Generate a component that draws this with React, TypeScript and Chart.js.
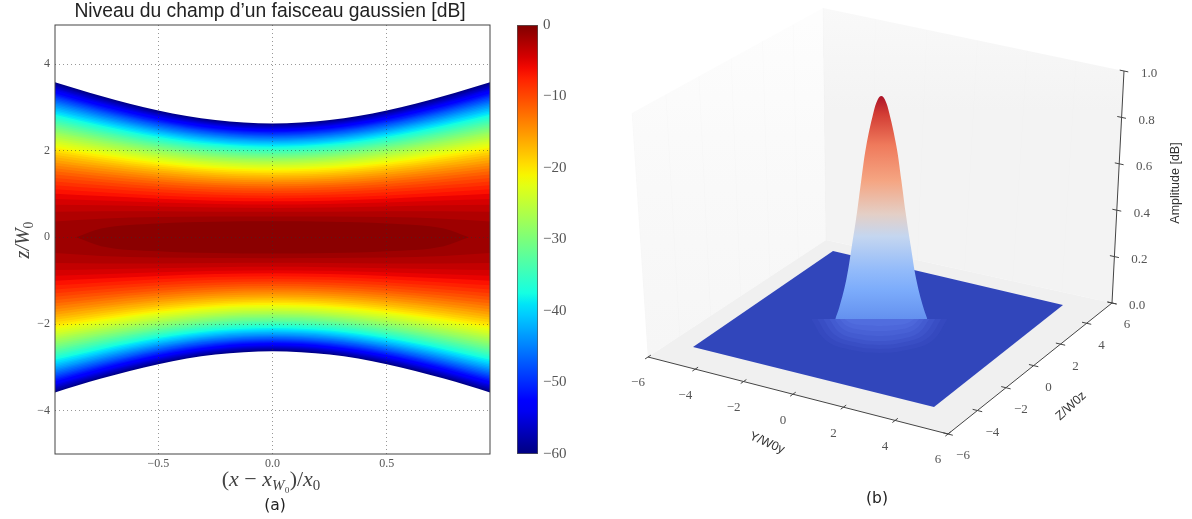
import React, { useEffect, useRef } from "react";
import { Chart, registerables } from "chart.js";

Chart.register(...registerables);

/* ---------- left panel: field level contours, read as half-widths z/W0 ---------- */
const titleText = "Niveau du champ d’un faisceau gaussien [dB]";
const contourX = [0, 0.25, 0.5, 0.75, 0.955];
const levelsDb = [2, 3, 4, 5, 6, 7, 8, 9, 10, 11, 12, 13, 14, 15, 16, 17, 18, 19, 20, 21, 22, 23, 24, 25, 26, 27, 28, 29, 30, 31, 32, 33, 34, 35, 36, 37, 38, 39, 40, 41, 42, 43, 44, 45, 46, 47, 48, 49, 50, 51, 52, 53, 54, 55, 56, 57, 58, 59, 60];
const zAtX000 = [0.48, 0.588, 0.679, 0.759, 0.831, 0.898, 0.96, 1.018, 1.073, 1.125, 1.175, 1.223, 1.27, 1.314, 1.357, 1.399, 1.44, 1.479, 1.517, 1.555, 1.592, 1.627, 1.662, 1.697, 1.73, 1.763, 1.795, 1.827, 1.858, 1.889, 1.919, 1.949, 1.978, 2.007, 2.036, 2.064, 2.092, 2.119, 2.146, 2.173, 2.199, 2.225, 2.251, 2.276, 2.301, 2.326, 2.351, 2.375, 2.399, 2.423, 2.447, 2.47, 2.493, 2.516, 2.539, 2.562, 2.584, 2.606, 2.628];
const zAtX025 = [0.478, 0.592, 0.688, 0.772, 0.847, 0.917, 0.981, 1.041, 1.099, 1.153, 1.205, 1.255, 1.302, 1.349, 1.393, 1.436, 1.478, 1.519, 1.559, 1.598, 1.636, 1.672, 1.709, 1.744, 1.779, 1.813, 1.846, 1.879, 1.911, 1.943, 1.974, 2.005, 2.035, 2.065, 2.095, 2.124, 2.152, 2.18, 2.208, 2.236, 2.263, 2.29, 2.316, 2.343, 2.369, 2.394, 2.42, 2.445, 2.47, 2.494, 2.519, 2.543, 2.567, 2.591, 2.614, 2.637, 2.661, 2.683, 2.706];
const zAtX050 = [0.467, 0.602, 0.711, 0.806, 0.891, 0.968, 1.04, 1.107, 1.17, 1.23, 1.287, 1.342, 1.395, 1.445, 1.494, 1.542, 1.588, 1.632, 1.676, 1.718, 1.76, 1.8, 1.84, 1.878, 1.916, 1.953, 1.99, 2.026, 2.061, 2.096, 2.13, 2.163, 2.196, 2.229, 2.261, 2.292, 2.324, 2.354, 2.385, 2.415, 2.444, 2.474, 2.502, 2.531, 2.559, 2.587, 2.615, 2.642, 2.669, 2.696, 2.723, 2.749, 2.775, 2.801, 2.827, 2.852, 2.877, 2.902, 2.927];
const zAtX075 = [0.431, 0.604, 0.738, 0.852, 0.951, 1.042, 1.125, 1.202, 1.275, 1.343, 1.409, 1.471, 1.531, 1.589, 1.644, 1.698, 1.75, 1.801, 1.85, 1.898, 1.945, 1.991, 2.035, 2.079, 2.122, 2.164, 2.205, 2.246, 2.285, 2.324, 2.363, 2.4, 2.438, 2.474, 2.51, 2.546, 2.581, 2.616, 2.65, 2.684, 2.717, 2.75, 2.782, 2.814, 2.846, 2.878, 2.909, 2.939, 2.97, 3.0, 3.03, 3.059, 3.089, 3.118, 3.146, 3.175, 3.203, 3.231, 3.259];
const zAtX095 = [0.363, 0.593, 0.755, 0.888, 1.004, 1.108, 1.203, 1.29, 1.373, 1.45, 1.524, 1.594, 1.661, 1.726, 1.788, 1.849, 1.907, 1.964, 2.019, 2.072, 2.124, 2.175, 2.225, 2.274, 2.321, 2.368, 2.414, 2.459, 2.503, 2.546, 2.589, 2.631, 2.672, 2.713, 2.753, 2.792, 2.831, 2.87, 2.908, 2.945, 2.982, 3.019, 3.055, 3.09, 3.126, 3.16, 3.195, 3.229, 3.263, 3.296, 3.329, 3.362, 3.394, 3.426, 3.458, 3.49, 3.521, 3.552, 3.583];
const coreLevelDb = 1.2;
const coreX = [0, 0.25, 0.5, 0.75, 0.86];
const coreZ = [0.372, 0.361, 0.321, 0.204, 0];
const colorbarTicks = [0, -10, -20, -30, -40, -50, -60];

/* jet colormap anchors */
const jetR = [[0, 0], [0.35, 0], [0.66, 1], [0.89, 1], [1, 0.5]];
const jetG = [[0, 0], [0.125, 0], [0.375, 1], [0.64, 1], [0.91, 0], [1, 0]];
const jetB = [[0, 0.5], [0.11, 1], [0.34, 1], [0.65, 0], [1, 0]];

/* ---------- right panel: 3D axes and surface ---------- */
const axisYTicks = [-6, -4, -2, 0, 2, 4, 6];
const axisZTicks = [-6, -4, -2, 0, 2, 4, 6];
const ampTicks = [0, 0.2, 0.4, 0.6, 0.8, 1];
const boxLimit = 6;
const surfaceLimit = 5;
const peakAmp = [1, 0.985, 0.926, 0.782, 0.634, 0.49, 0.342, 0.199, 0.081, 0.029];
const peakRadius = [0, 0.13, 0.29, 0.55, 0.73, 0.89, 1.08, 1.28, 1.53, 1.68];
/* glow below the cut base of the peak */
const glowHalfWidth = [68, 62, 56, 50, 45, 40, 35];
const glowDepth = [34, 30, 26, 22, 17, 12, 7];
const glowColors = ["#3549bf", "#394ec4", "#3e54ca", "#435bd0", "#4861d5", "#4d67da", "#516dde"];
const glowShapeX = [-1, -0.8, -0.5, 0, 0.5, 0.8, 1];
const glowShapeY = [0, 0.6, 0.87, 1, 0.87, 0.6, 0];

/* camera calibration (projection, pixel frame of the 3D box) */
const floorQuad = [[648, 357], [948, 434], [1112, 303], [826, 240]];
const topQuad = [[632, 113], [966, 175], [1124, 71], [823, 8]];
const surfaceQuad = [[693, 347], [934, 407], [1063, 305], [833, 251]];
const peakCenter = [881.3, 325.6];
const peakPxPerAmp = 229.6;
const peakPxPerRadius = 27.4;
const peakCutY = 319;

function homography(q: number[][]) {
  const [[x0, y0], [x1, y1], [x2, y2], [x3, y3]] = q;
  const dx1 = x1 - x2, dx2 = x3 - x2, sx = x0 - x1 + x2 - x3;
  const dy1 = y1 - y2, dy2 = y3 - y2, sy = y0 - y1 + y2 - y3;
  const den = dx1 * dy2 - dx2 * dy1;
  const g = (sx * dy2 - dx2 * sy) / den;
  const h = (dx1 * sy - sx * dy1) / den;
  const a = x1 - x0 + g * x1, b = x3 - x0 + h * x3;
  const d = y1 - y0 + g * y1, e = y3 - y0 + h * y3;
  return (u: number, v: number) => {
    const w = g * u + h * v + 1;
    return [(a * u + b * v + x0) / w, (d * u + e * v + y0) / w];
  };
}
const floorMap = homography(floorQuad);
const topMap = homography(topQuad);
const surfMap = homography(surfaceQuad);

function boxPoint(Y: number, Z: number, A: number) {
  const u = (Y + boxLimit) / (2 * boxLimit), v = (Z + boxLimit) / (2 * boxLimit);
  const f = floorMap(u, v), t = topMap(u, v);
  return { x: f[0] + (t[0] - f[0]) * A, y: f[1] + (t[1] - f[1]) * A };
}
function surfPoint(Y: number, Z: number) {
  const p = surfMap((Y + surfaceLimit) / (2 * surfaceLimit), (Z + surfaceLimit) / (2 * surfaceLimit));
  return { x: p[0], y: p[1] };
}

function ramp(anchors: number[][], t: number) {
  for (let i = 1; i < anchors.length; i++) {
    if (t <= anchors[i][0]) {
      const [a, va] = anchors[i - 1], [b, vb] = anchors[i];
      return va + ((vb - va) * (t - a)) / (b - a);
    }
  }
  return anchors[anchors.length - 1][1];
}
function jet(t: number) {
  const c = (v: number) => Math.round(255 * v);
  return `rgb(${c(ramp(jetR, t))},${c(ramp(jetG, t))},${c(ramp(jetB, t))})`;
}
const minusSign = (s: string | number) => String(s).replace("-", "−");

const hiddenLine = { borderWidth: 0, borderColor: "transparent", pointRadius: 0, pointHitRadius: 0 };

/* two x-monotonic chains of a convex polygon, painted between each other */
function polygonPair(pts: { x: number; y: number }[], color: string | CanvasGradient) {
  let lo = 0, hi = 0;
  pts.forEach((p, i) => {
    if (p.x < pts[lo].x) lo = i;
    if (p.x > pts[hi].x) hi = i;
  });
  const n = pts.length;
  const a = [pts[lo]], b = [pts[lo]];
  for (let i = lo; i !== hi; i = (i + 1) % n) a.push(pts[(i + 1) % n]);
  for (let i = lo; i !== hi; i = (i - 1 + n) % n) b.push(pts[(i - 1 + n) % n]);
  return [
    { ...hiddenLine, data: b, fill: false },
    { ...hiddenLine, data: a, fill: "+1", backgroundColor: color },
  ];
}

type Seg = { t: string; it?: boolean; sub?: boolean };
function drawMath(ctx: CanvasRenderingContext2D, segs: Seg[], cx: number, cy: number, size: number, rot = 0) {
  const font = (s: Seg) => `${s.it ? "italic " : ""}${s.sub ? size * 0.68 : size}px "Liberation Serif"`;
  let total = 0;
  segs.forEach((s) => {
    ctx.font = font(s);
    total += ctx.measureText(s.t).width;
  });
  ctx.save();
  ctx.translate(cx, cy);
  ctx.rotate(rot);
  ctx.textBaseline = "alphabetic";
  ctx.textAlign = "left";
  let x = -total / 2;
  segs.forEach((s) => {
    ctx.font = font(s);
    ctx.fillText(s.t, x, size * 0.3 + (s.sub ? size * 0.22 : 0));
    x += ctx.measureText(s.t).width;
  });
  ctx.restore();
}
function drawText(ctx: CanvasRenderingContext2D, t: string, x: number, y: number, font: string, color: string, rot = 0) {
  ctx.save();
  ctx.translate(x, y);
  ctx.rotate(rot);
  ctx.font = font;
  ctx.fillStyle = color;
  ctx.textAlign = "center";
  ctx.textBaseline = "middle";
  ctx.fillText(t, 0, 0);
  ctx.restore();
}

export default function App() {
  const heatRef = useRef<HTMLCanvasElement>(null);
  const barRef = useRef<HTMLCanvasElement>(null);
  const surfRef = useRef<HTMLCanvasElement>(null);

  useEffect(() => {
    /* ---------------- heat map ---------------- */
    const mirrored = (xs: number[], zs: number[], sign: number) => {
      const right = xs.map((x, i) => ({ x, y: sign * zs[i] }));
      const left = xs.slice(1).reverse().map((x, i, arr) => ({ x: -x, y: sign * zs[arr.length - i] }));
      return [...left, ...right];
    };
    const bandLine = { ...hiddenLine, cubicInterpolationMode: "monotone" as const };
    const heatSets: any[] = [
      { ...bandLine, data: mirrored(coreX, coreZ, 1), fill: "+1", backgroundColor: jet(1 - coreLevelDb / 2 / 60) },
      { ...bandLine, data: mirrored(coreX, coreZ, -1), fill: false },
    ];
    levelsDb.forEach((db, i) => {
      const prev = i === 0 ? coreLevelDb : levelsDb[i - 1];
      const zs = [zAtX000[i], zAtX025[i], zAtX050[i], zAtX075[i], zAtX095[i]];
      heatSets.push(
        { ...bandLine, data: mirrored(contourX, zs, 1), fill: "+1", backgroundColor: jet(1 - (db + prev) / 2 / 60) },
        { ...bandLine, data: mirrored(contourX, zs, -1), fill: false }
      );
    });
    const heatDecor = {
      id: "heatDecor",
      afterDatasetsDraw(chart: any) {
        const { ctx, chartArea: a } = chart;
        ctx.save();
        ctx.strokeStyle = "#444";
        ctx.lineWidth = 1;
        ctx.strokeRect(a.left, a.top, a.right - a.left, a.bottom - a.top);
        ctx.fillStyle = "#444";
        drawMath(ctx, [
          { t: "(" }, { t: "x", it: true }, { t: " − " }, { t: "x", it: true }, { t: "W", it: true, sub: true }, { t: "₀", sub: true },
          { t: ")/" }, { t: "x", it: true }, { t: "0", sub: true },
        ], 271, 479, 22);
        drawMath(ctx, [{ t: "z/W", it: true }, { t: "0", sub: true }], 23, 240, 20, -Math.PI / 2);
        ctx.restore();
        drawText(ctx, "(a)", 275, 506, '15.5px "DejaVu Sans"', "#222");
      },
    };
    const heat = new Chart(heatRef.current!, {
      type: "line",
      data: { datasets: heatSets },
      plugins: [heatDecor],
      options: {
        animation: false,
        responsive: false,
        layout: { padding: 0 },
        plugins: {
          legend: { display: false },
          tooltip: { enabled: false },
          title: {
            display: true,
            text: titleText,
            color: "#222",
            font: { family: "Liberation Sans", size: 19.3, weight: "normal", lineHeight: 1.2 },
            padding: { top: 0, bottom: 1.84 },
          },
        },
        scales: {
          x: {
            type: "linear",
            min: -0.952,
            max: 0.952,
            afterFit: (s: any) => { s.height = 65; },
            grid: { z: 1, color: "rgba(50,50,50,0.5)", drawTicks: false },
            border: { display: false, dash: [1, 3] },
            afterBuildTicks: (s: any) => { s.ticks = [{ value: -0.5 }, { value: 0 }, { value: 0.5 }]; },
            ticks: {
              padding: 3,
              color: "#555",
              font: { family: "Liberation Serif", size: 12 },
              callback: (v: any) => minusSign(Number(v).toFixed(1)),
            },
          },
          y: {
            type: "linear",
            min: -5,
            max: 4.9,
            afterFit: (s: any) => { s.width = 55; },
            grid: { z: 1, color: "rgba(50,50,50,0.5)", drawTicks: false },
            border: { display: false, dash: [1, 3] },
            afterBuildTicks: (s: any) => { s.ticks = [-4, -2, 0, 2, 4].map((value) => ({ value })); },
            ticks: {
              padding: 5,
              color: "#555",
              font: { family: "Liberation Serif", size: 12 },
              callback: (v: any) => minusSign(v),
            },
          },
          spacer: {
            type: "linear",
            position: "right",
            afterFit: (s: any) => { s.width = 50; },
            grid: { display: false, drawTicks: false },
            border: { display: false },
            ticks: { display: false },
          },
        },
      } as any,
    });

    /* ---------------- colour bar ---------------- */
    const barCtx = barRef.current!.getContext("2d")!;
    const barGrad = barCtx.createLinearGradient(0, 25, 0, 454);
    for (let i = 0; i <= 40; i++) barGrad.addColorStop(i / 40, jet(1 - i / 40));
    const bar = new Chart(barRef.current!, {
      type: "bar",
      data: {
        labels: ["dB"],
        datasets: [{
          data: [[colorbarTicks[colorbarTicks.length - 1], colorbarTicks[0]]],
          backgroundColor: barGrad,
          borderColor: "#555",
          borderWidth: 1,
          borderSkipped: false,
          barPercentage: 1,
          categoryPercentage: 1,
        }],
      },
      options: {
        animation: false,
        responsive: false,
        layout: { padding: { left: 17, right: 0, top: 25, bottom: 65 } },
        plugins: { legend: { display: false }, tooltip: { enabled: false } },
        scales: {
          x: { display: false },
          y: {
            position: "right",
            min: -60,
            max: 0,
            afterFit: (s: any) => { s.width = 42; },
            grid: { display: false, drawTicks: false },
            border: { display: false },
            afterBuildTicks: (s: any) => { s.ticks = colorbarTicks.map((value) => ({ value })); },
            ticks: {
              padding: 5,
              color: "#555",
              font: { family: "Liberation Serif", size: 15 },
              callback: (v: any) => minusSign(v),
            },
          },
        },
      } as any,
    });

    /* ---------------- 3D surface ---------------- */
    const surfCtx = surfRef.current!.getContext("2d")!;
    const painter: any[] = [];
    const addLine = (data: { x: number; y: number }[], color: string, width = 1) =>
      painter.push({ data, borderColor: color, borderWidth: width, pointRadius: 0, fill: false });

    const L = boxLimit;
    // walls and floor
    const leftWall = surfCtx.createLinearGradient(0, 20, 0, 350);
    leftWall.addColorStop(0, "#fdfdfd");
    leftWall.addColorStop(0.35, "#fafafa");
    leftWall.addColorStop(1, "#f6f6f6");
    const rightWall = surfCtx.createLinearGradient(0, 8, 0, 110);
    rightWall.addColorStop(0, "#f9f9f9");
    rightWall.addColorStop(1, "#f3f3f3");
    painter.push(...polygonPair([boxPoint(-L, -L, 1), boxPoint(-L, L, 1), boxPoint(-L, L, 0), boxPoint(-L, -L, 0)], leftWall));
    painter.push(...polygonPair([boxPoint(-L, L, 1), boxPoint(L, L, 1), boxPoint(L, L, 0), boxPoint(-L, L, 0)], rightWall));
    painter.push(...polygonPair([boxPoint(-L, -L, 0), boxPoint(L, -L, 0), boxPoint(L, L, 0), boxPoint(-L, L, 0)], "#f0f0f0"));
    // faint wall grid
    axisZTicks.forEach((z) => addLine([boxPoint(-L, z, 0), boxPoint(-L, z, 1)].sort((a, b) => a.x - b.x), "rgba(0,0,0,0.012)"));
    axisYTicks.forEach((y) => addLine([boxPoint(y, L, 0), boxPoint(y, L, 1)].sort((a, b) => a.x - b.x), "rgba(0,0,0,0.008)"));
    // blue surface
    const S = surfaceLimit;
    painter.push(...polygonPair([surfPoint(-S, -S), surfPoint(S, -S), surfPoint(S, S), surfPoint(-S, S)], "#3146bb"));
    // glow on the surface, cut by the base of the peak
    glowHalfWidth.forEach((w, i) => {
      painter.push({
        ...hiddenLine,
        tension: 0.4,
        data: glowShapeX.map((sx, j) => ({ x: peakCenter[0] + sx * w - 2, y: peakCutY + glowShapeY[j] * glowDepth[i] })),
        fill: { value: peakCutY },
        backgroundColor: glowColors[i],
      });
    });
    // peak silhouette
    const peakGrad = surfCtx.createLinearGradient(0, 96, 0, peakCutY);
    const peakStops: [number, string][] = [
      [0, "#ac1428"], [0.08, "#d23c34"], [0.22, "#ef7a5c"], [0.38, "#f5a582"], [0.53, "#e4cfc6"],
      [0.63, "#c4d6f0"], [0.78, "#93bbfa"], [0.87, "#7cacfb"], [1, "#6491ef"],
    ];
    peakStops.forEach(([o, c]) => peakGrad.addColorStop(o, c));
    const peakPx = (sign: number, i: number) => ({
      x: peakCenter[0] + sign * peakRadius[i] * peakPxPerRadius,
      y: peakCenter[1] - peakAmp[i] * peakPxPerAmp,
    });
    const peakData = [
      ...peakAmp.map((_, i) => peakPx(-1, peakAmp.length - 1 - i)),
      ...peakAmp.slice(1).map((_, i) => peakPx(1, i + 1)),
    ];
    painter.push({
      ...hiddenLine,
      data: peakData,
      tension: 0.4,
      fill: { value: peakCutY },
      backgroundColor: peakGrad,
    });
    // axes
    addLine([boxPoint(-L, -L, 0), boxPoint(L, -L, 0)], "#444");
    addLine([boxPoint(L, -L, 0), boxPoint(L, L, 0)], "#444");
    addLine([boxPoint(L, L, 0), boxPoint(L, L, 1)], "#444");
    const tickSpan = 0.18;
    axisYTicks.forEach((y) => addLine([boxPoint(y, -L - tickSpan, 0), boxPoint(y, -L + tickSpan, 0)].sort((a, b) => a.x - b.x), "#444"));
    axisZTicks.forEach((z) => addLine([boxPoint(L - tickSpan, z, 0), boxPoint(L + tickSpan, z, 0)].sort((a, b) => a.x - b.x), "#444"));
    ampTicks.forEach((a) => addLine([boxPoint(L - tickSpan, L, a), boxPoint(L + tickSpan, L, a)].sort((p, q) => p.x - q.x), "#444"));

    const surfDecor = {
      id: "surfDecor",
      afterDatasetsDraw(chart: any) {
        const { ctx } = chart;
        const tickFont = '13px "Liberation Serif"';
        axisYTicks.forEach((y) => {
          const p = boxPoint(y, -L, 0);
          drawText(ctx, minusSign(y), p.x - 10, p.y + 26, tickFont, "#555");
        });
        axisZTicks.forEach((z) => {
          const p = boxPoint(L, z, 0);
          drawText(ctx, minusSign(z), p.x + 15, p.y + 22, tickFont, "#555");
        });
        ampTicks.forEach((a) => {
          const p = boxPoint(L, L, a);
          drawText(ctx, a.toFixed(1), p.x + 25, p.y + 3, tickFont, "#555");
        });
        const labelFont = '12.5px "Liberation Sans"';
        drawText(ctx, "Y/W0y", 767, 443, labelFont, "#333", (24 * Math.PI) / 180);
        drawText(ctx, "Z/W0z", 1071, 406, labelFont, "#333", (-42 * Math.PI) / 180);
        drawText(ctx, "Amplitude [dB]", 1176, 183, labelFont, "#333", -Math.PI / 2);
        drawText(ctx, "(b)", 877, 499, '15.5px "DejaVu Sans"', "#222");
      },
    };
    const surf = new Chart(surfRef.current!, {
      type: "line",
      data: { datasets: painter.slice().reverse() },
      plugins: [surfDecor],
      options: {
        animation: false,
        responsive: false,
        layout: { padding: 0 },
        plugins: { legend: { display: false }, tooltip: { enabled: false } },
        scales: {
          x: { type: "linear", min: 0, max: 1192, display: false },
          y: { type: "linear", min: 0, max: 519, reverse: true, display: false },
        },
      } as any,
    });

    return () => {
      heat.destroy();
      bar.destroy();
      surf.destroy();
    };
  }, []);

  const abs = (left: number, width: number, blur = 0.5): React.CSSProperties => ({
    position: "absolute", left, top: 0, width, height: 519, display: "block", filter: `blur(${blur}px)`,
  });
  return (
    <div style={{ position: "fixed", left: 0, top: 0, width: 1192, height: 519, background: "#fff", overflow: "hidden" }}>
      <canvas ref={surfRef} width={1192} height={519} style={abs(0, 1192, 0.6)} />
      <canvas ref={heatRef} width={540} height={519} style={abs(0, 540, 0.55)} />
      <canvas ref={barRef} width={80} height={519} style={abs(500, 80, 0.55)} />
    </div>
  );
}
